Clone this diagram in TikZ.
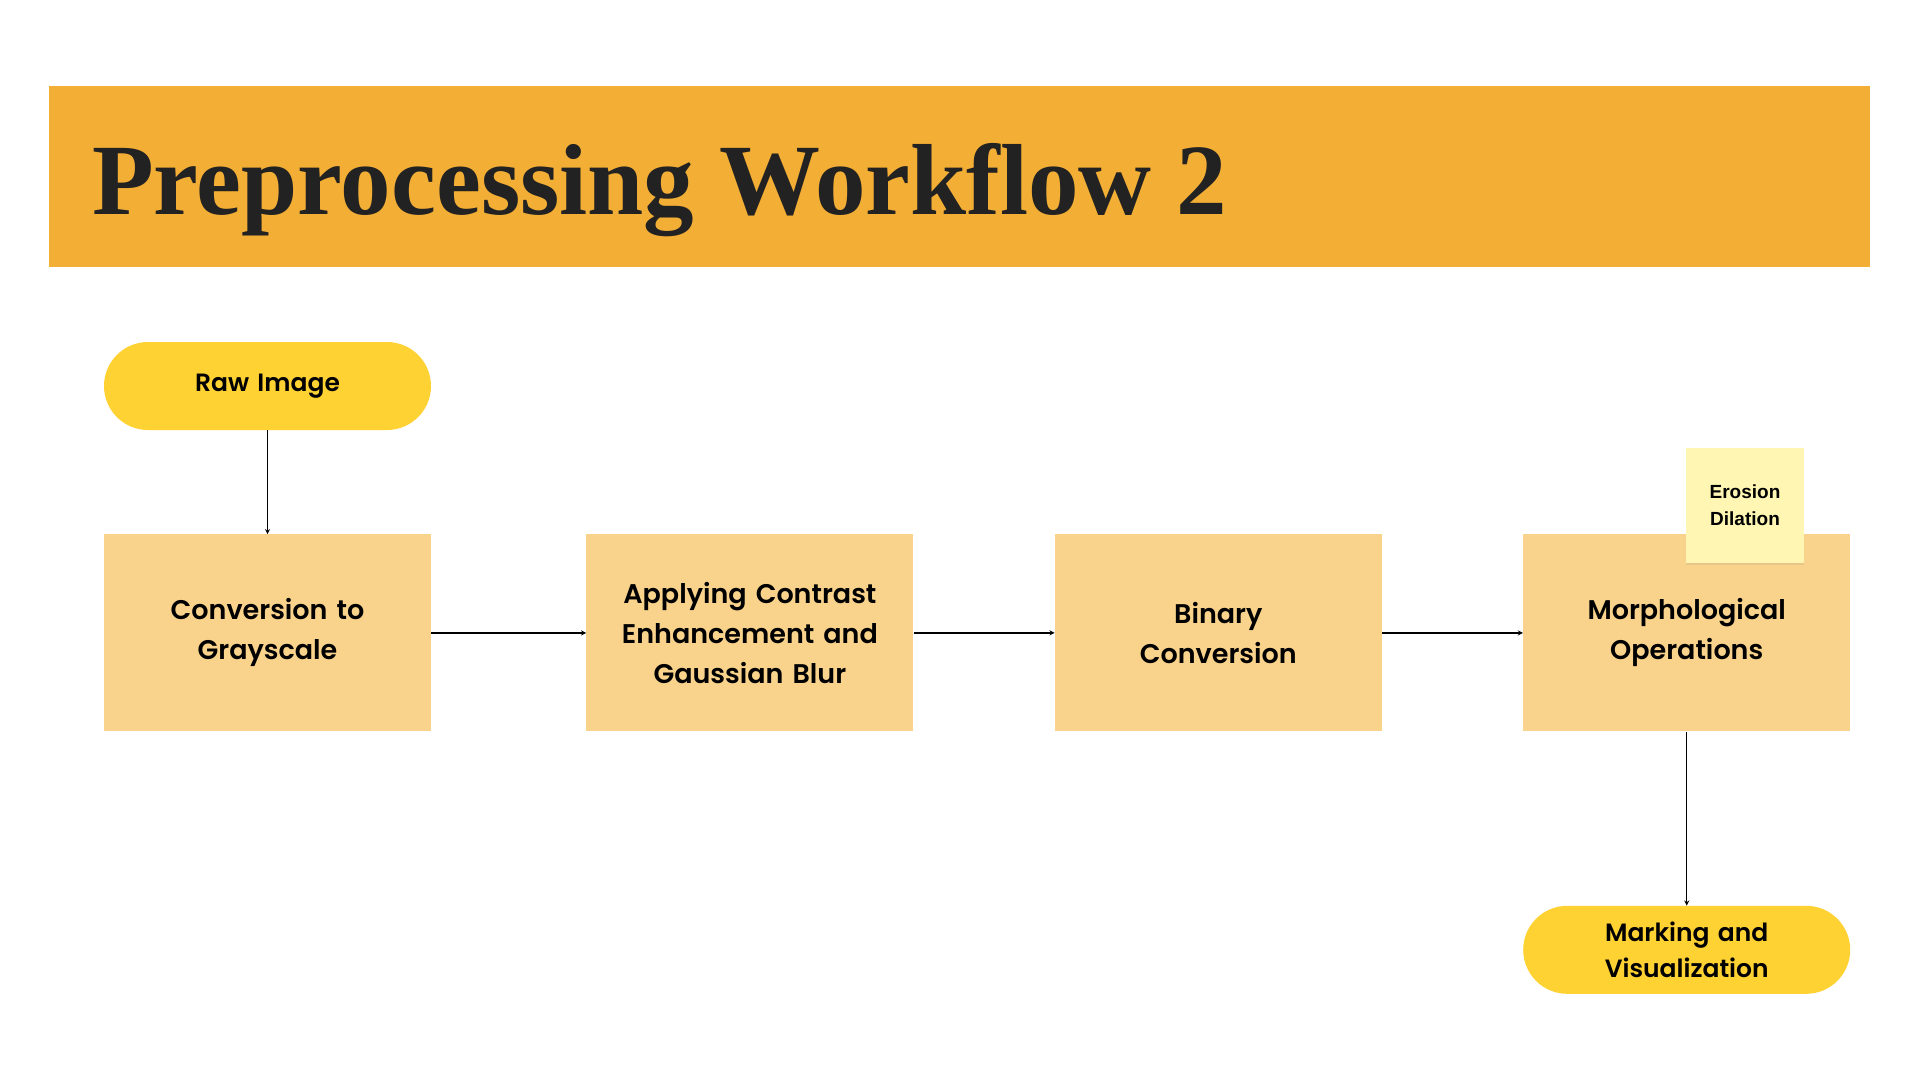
\documentclass[tikz,border=0pt]{standalone}
\usepackage{fontspec}
\usepackage{xcolor}
\usepackage{tikz}
\usetikzlibrary{arrows,positioning,shadows}

\newfontfamily\boxfont{Poppins}[BoldFont={Poppins SemiBold}]
\newfontfamily\titlefont{Liberation Serif}
\newfontfamily\notefont{Liberation Sans}

\definecolor{bandorange}{HTML}{F3AE35}
\definecolor{boxorange}{HTML}{F9D38B}
\definecolor{pillyellow}{HTML}{FFD233}
\definecolor{noteyellow}{HTML}{FEF6B2}
\definecolor{inkgray}{HTML}{222222}

\begin{document}
\begin{tikzpicture}[
    x=1pt, y=-1pt,
    node distance=141pt,
    box/.style={rectangle, fill=boxorange, text width=300pt, align=center, minimum width=327pt, minimum height=197pt, inner sep=0pt, font=\boxfont\bfseries\fontsize{27}{40}\selectfont},
    term/.style={rectangle, rounded corners=44pt, fill=pillyellow, text width=300pt, align=center, minimum width=327pt, minimum height=88pt, inner sep=0pt, font=\boxfont\bfseries\fontsize{25}{36}\selectfont},
    note/.style={rectangle, fill=noteyellow, align=center, minimum width=118pt, minimum height=115pt, inner sep=0pt, font=\notefont\bfseries\fontsize{19}{27}\selectfont, drop shadow={shadow xshift=0pt, shadow yshift=-2pt, opacity=0.15}},
    arrow/.style={->, >=stealth, line width=1.3pt},
]
    \fill[white] (0,0) rectangle (1920,1080);
    \useasboundingbox (0,0) rectangle (1920,1080);

    \node[fill=bandorange, minimum width=1821pt, minimum height=181pt, anchor=north west, inner sep=0pt] (band) at (49,86) {};
    \node[anchor=base west, inner sep=0pt, text=inkgray, font=\titlefont\bfseries\fontsize{101}{101}\selectfont] (title) at (92,214) {Preprocessing Workflow 2};

    \node[term] (raw) at (267.5,386) {Raw Image};
    \node[box, below=104pt of raw] (gray) {Conversion to\\Grayscale};
    \node[box, right=155pt of gray] (blur) {Applying Contrast\\Enhancement and\\Gaussian Blur};
    \node[box, right=141pt of blur] (binary) {Binary\\Conversion};
    \node[box, right=141pt of binary] (morph) {Morphological\\Operations};
    \node[term, below=174pt of morph] (mark) {Marking and\\Visualization};
    \node[note] (ops) at (1745,505.5) {Erosion\\Dilation};

    \draw[arrow] (raw) -- (gray);
    \draw[arrow] (gray) -- (blur);
    \draw[arrow] (blur) -- (binary);
    \draw[arrow] (binary) -- (morph);
    \draw[arrow] (morph) -- (mark);
\end{tikzpicture}
\end{document}
